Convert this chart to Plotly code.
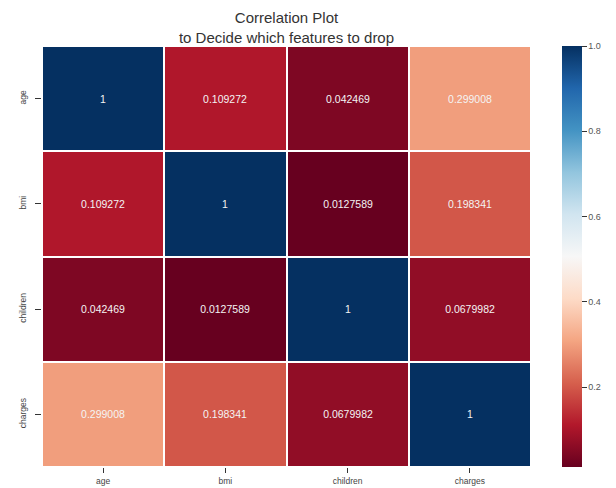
import plotly.graph_objects as go

# Feature names and pairwise correlation matrix
features = ["age", "bmi", "children", "charges"]
corr_age = [1, 0.109272, 0.042469, 0.299008]
corr_bmi = [0.109272, 1, 0.0127589, 0.198341]
corr_children = [0.042469, 0.0127589, 1, 0.0679982]
corr_charges = [0.299008, 0.198341, 0.0679982, 1]
corr_labels = [
    ["1", "0.109272", "0.042469", "0.299008"],
    ["0.109272", "1", "0.0127589", "0.198341"],
    ["0.042469", "0.0127589", "1", "0.0679982"],
    ["0.299008", "0.198341", "0.0679982", "1"],
]
cbar_ticks = [0.2, 0.4, 0.6, 0.8, 1.0]

z = [corr_age, corr_bmi, corr_children, corr_charges]

# Diverging red-blue palette (ColorBrewer RdBu)
rdbu = ["rgb(103,0,31)", "rgb(178,24,43)", "rgb(214,96,77)", "rgb(244,165,130)",
        "rgb(253,219,199)", "rgb(247,247,247)", "rgb(209,229,240)", "rgb(146,197,222)",
        "rgb(67,147,195)", "rgb(33,102,172)", "rgb(5,48,97)"]
colorscale = [[i / (len(rdbu) - 1), c] for i, c in enumerate(rdbu)]

zmin = min(min(r) for r in z)
zmax = max(max(r) for r in z)

FONT = "Liberation Sans, Arial, sans-serif"

fig = go.Figure(
    go.Heatmap(
        z=z,
        x=features,
        y=features,
        text=corr_labels,
        texttemplate="%{text}",
        textfont=dict(family=FONT, size=10.5, color="#f4f4f4"),
        colorscale=colorscale,
        zmin=zmin,
        zmax=zmax,
        xgap=2,
        ygap=2,
        hoverinfo="skip",
        colorbar=dict(
            x=1.063,
            xanchor="left",
            xpad=0,
            y=0.5,
            yanchor="middle",
            len=1,
            ypad=0,
            thickness=20,
            outlinewidth=0,
            tickvals=cbar_ticks,
            ticktext=[f"{v:.1f}" for v in cbar_ticks],
            ticks="outside",
            ticklen=5,
            tickwidth=1,
            tickcolor="#333333",
            tickfont=dict(family=FONT, size=9, color="#555555"),
        ),
    )
)

fig.update_layout(
    width=616,
    height=488,
    margin=dict(l=42, r=85, t=46, b=21, autoexpand=False),
    paper_bgcolor="white",
    plot_bgcolor="white",
    title=dict(
        text="Correlation Plot<br>to Decide which features to drop",
        x=(42 + 531) / 2 / 616,
        xanchor="center",
        y=1 - 23 / 488,
        yanchor="top",
        font=dict(family=FONT, size=15, color="#333333"),
    ),
    xaxis=dict(
        automargin=False,
        showgrid=False,
        zeroline=False,
        ticks="outside",
        ticklen=5,
        tickwidth=1,
        tickcolor="#333333",
        ticklabelstandoff=1,
        tickfont=dict(family=FONT, size=8.5, color="#444444"),
    ),
    yaxis=dict(
        automargin=False,
        autorange="reversed",
        showgrid=False,
        zeroline=False,
        ticks="outside",
        ticklen=6,
        tickwidth=1,
        tickcolor="#333333",
        tickangle=-90,
        ticklabelstandoff=6,
        tickfont=dict(family=FONT, size=8.5, color="#444444"),
    ),
)

fig.write_html("out.html")
